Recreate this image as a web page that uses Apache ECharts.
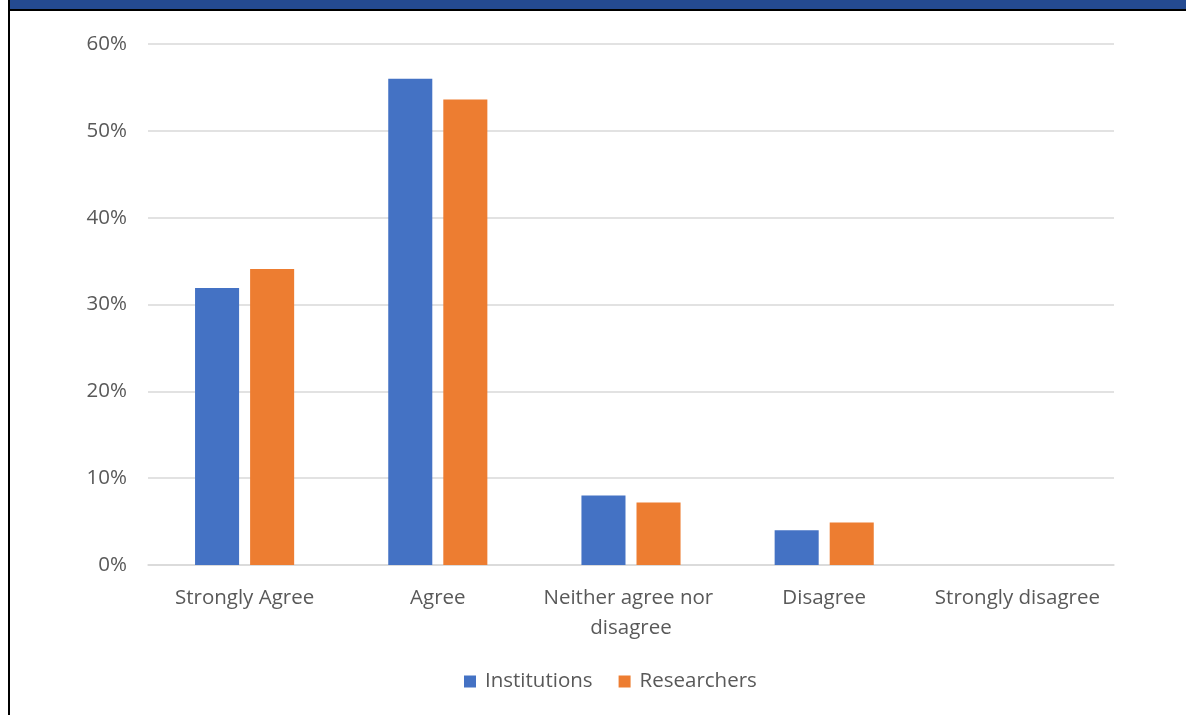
<!DOCTYPE html>
<html>
<head>
<meta charset="utf-8">
<script src="https://cdn.jsdelivr.net/npm/echarts@6/dist/echarts.min.js"></script>
<style>
  html, body { margin: 0; padding: 0; background: #fff; }
  #chart { width: 1186px; height: 715px; }
</style>
</head>
<body>
<div id="chart"></div>
<script>
const categories = ['Strongly Agree', 'Agree', 'Neither agree nor disagree', 'Disagree', 'Strongly disagree'];
const institutions = [31.9, 56.0, 8.0, 4.0, 0];
const researchers = [34.1, 53.6, 7.2, 4.9, 0];
const seriesNames = ['Institutions', 'Researchers'];

const FONT = '"Open Sans", "Noto Sans", sans-serif';
const TXT = '#595959';

const chart = echarts.init(document.getElementById('chart'), null, { renderer: 'canvas' });
chart.setOption({
  animation: false,
  textStyle: { fontFamily: FONT },
  graphic: [
    { type: 'rect', shape: { x: 10, y: 0, width: 1176, height: 9 }, style: { fill: '#244A91' }, silent: true },
    { type: 'rect', shape: { x: 8, y: 9, width: 1178, height: 2 }, style: { fill: '#000' }, silent: true },
    { type: 'rect', shape: { x: 8, y: 0, width: 2, height: 715 }, style: { fill: '#000' }, silent: true }
  ],
  grid: { left: 148, right: 72, top: 44, bottom: 150, containLabel: false },
  legend: {
    data: seriesNames,
    left: 464, top: 671, padding: 0,
    icon: 'rect', itemWidth: 12, itemHeight: 12, itemGap: 26,
    textStyle: { color: TXT, fontSize: 20.5, fontFamily: FONT, padding: [0, 0, 0, 4] }
  },
  xAxis: {
    type: 'category',
    data: categories,
    axisLine: { lineStyle: { color: '#d9d9d9', width: 1.5 } },
    axisTick: { show: false },
    axisLabel: {
      color: TXT, fontSize: 20.5, fontFamily: FONT, margin: 18,
      width: 190, overflow: 'break', lineHeight: 30, interval: 0
    }
  },
  yAxis: {
    type: 'value', min: 0, max: 60, interval: 10,
    axisLine: { show: false }, axisTick: { show: false },
    splitLine: { lineStyle: { color: '#d9d9d9', width: 1.5 } },
    axisLabel: { color: TXT, fontSize: 20.5, fontFamily: FONT, margin: 21, formatter: '{value}%' }
  },
  series: [
    { name: seriesNames[0], type: 'bar', data: institutions, barWidth: '22.8%', barGap: '25%',
      itemStyle: { color: '#4472C4' } },
    { name: seriesNames[1], type: 'bar', data: researchers, barWidth: '22.8%',
      itemStyle: { color: '#ED7D31' } }
  ]
});
</script>
</body>
</html>
